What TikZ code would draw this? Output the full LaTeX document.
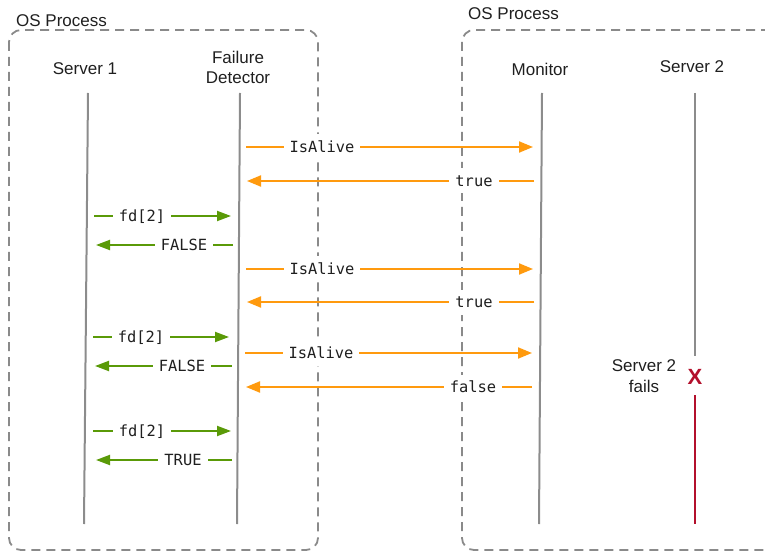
\documentclass[tikz,border=0pt]{standalone}
\usepackage{fontspec}
\setmainfont{Liberation Sans}
\setmonofont{DejaVu Sans Mono}
\usetikzlibrary{arrows.meta}

\definecolor{msgorange}{HTML}{FF9A0E}
\definecolor{msggreen}{HTML}{5A9A08}
\definecolor{failred}{HTML}{B3102C}
\definecolor{lifegray}{HTML}{8C8C8C}
\definecolor{boxgray}{HTML}{8A8A8A}

% one horizontal message: style, name, y, x start, x end, label x, label
\newcommand\sendmsg[7]{%
  \coordinate (#2s) at (#4,#3);
  \coordinate (#2e) at (#5,#3);
  \draw[#1] (#2s) -- (#2e);
  \node[msglabel] (#2l) at (#6,#3) {#7};
}

\tikzset{
  procbox/.style={draw=boxgray, line width=1.8pt, dash pattern=on 9pt off 6pt, rounded corners=12pt},
  lifeline/.style={draw=lifegray, line width=2pt},
  head/.style={font=\fontsize{17}{20.5}\selectfont, align=center, inner sep=0pt, text=black!88},
  omsg/.style={draw=msgorange, line width=2pt, -{Triangle[length=14pt,width=11pt]}},
  gmsg/.style={draw=msggreen, line width=2pt, -{Triangle[length=14pt,width=10pt]}},
  msglabel/.style={fill=white, font=\ttfamily\fontsize{15.4}{18}\selectfont, text=black!88,
    inner xsep=6pt, inner ysep=7pt, text height=11pt, text depth=0pt},
}

\begin{document}
\begin{tikzpicture}[x=1pt, y=-1pt]
  \useasboundingbox (0,0) rectangle (765,553);
  \begin{scope}
    \clip (0,0) rectangle (765,553);

    % process boundaries
    \draw[procbox] (9,30) rectangle (318,550);
    \draw[procbox] (462,30) rectangle (800,550);
    \node[head, anchor=west] (proc1) at (16,20.5) {OS Process};
    \node[head, anchor=west] (proc2) at (468,14) {OS Process};

    % participants
    \node[head] (s1) at (85,69) {Server 1};
    \node[head] (fd) at (238,67.5) {Failure\\Detector};
    \node[head] (mon) at (540,69) {Monitor};
    \node[head] (s2) at (692,66.5) {Server 2};

    % lifelines
    \coordinate (s1top) at (88,93);   \coordinate (s1bot) at (84,524);
    \coordinate (fdtop) at (240,93);  \coordinate (fdbot) at (237,524);
    \coordinate (montop) at (542,93); \coordinate (monbot) at (539,524);
    \coordinate (s2top) at (695,93);  \coordinate (s2cut) at (695,356);
    \coordinate (s2dead) at (695,395); \coordinate (s2bot) at (695,524);
    \draw[lifeline] (s1top) -- (s1bot);
    \draw[lifeline] (fdtop) -- (fdbot);
    \draw[lifeline] (montop) -- (monbot);
    \draw[lifeline] (s2top) -- (s2cut);
    \draw[draw=failred, line width=2pt] (s2dead) -- (s2bot);

    % failure mark
    \node[font=\bfseries\fontsize{22}{22}\selectfont, text=failred, inner sep=0pt] (cross) at (695,377) {X};
    \node[head] (fails) at (644,376) {Server 2\\fails};

    % detector <-> monitor
    \sendmsg{omsg}{q1}{147}{246}{533}{322}{IsAlive}
    \sendmsg{omsg}{r1}{181}{534}{247}{474}{true}
    \sendmsg{omsg}{q2}{269}{246}{533}{322}{IsAlive}
    \sendmsg{omsg}{r2}{302}{534}{247}{474}{true}
    \sendmsg{omsg}{q3}{353}{245}{532}{321}{IsAlive}
    \sendmsg{omsg}{r3}{387}{532}{246}{473}{false}

    % server 1 <-> detector
    \sendmsg{gmsg}{f1}{216}{94}{231}{142}{fd[2]}
    \sendmsg{gmsg}{a1}{245}{233}{96}{184}{FALSE}
    \sendmsg{gmsg}{f2}{337}{93}{229}{141}{fd[2]}
    \sendmsg{gmsg}{a2}{366}{232}{95}{182}{FALSE}
    \sendmsg{gmsg}{f3}{431}{93}{231}{142}{fd[2]}
    \sendmsg{gmsg}{a3}{460}{232}{96}{183}{TRUE}
  \end{scope}
\end{tikzpicture}
\end{document}
